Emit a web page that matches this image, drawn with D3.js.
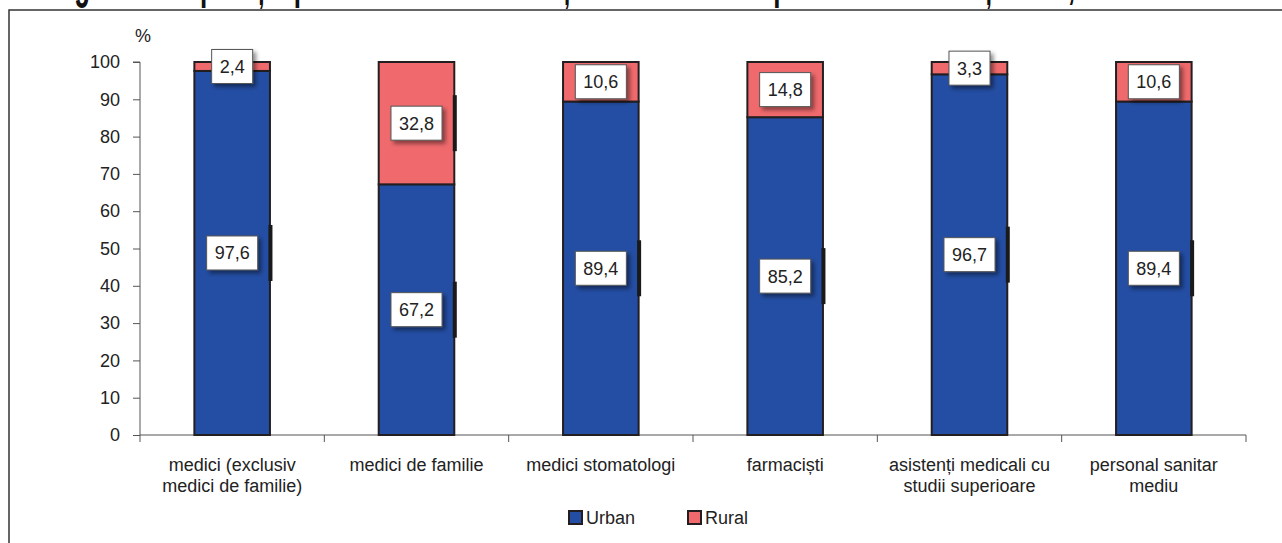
<!DOCTYPE html>
<html>
<head>
<meta charset="utf-8">
<script src="https://cdn.jsdelivr.net/npm/d3@7"></script>
<style>
  body { margin: 0; background: #fff; }
  svg { display: block; font-family: "Liberation Sans", Arial, sans-serif; }
</style>
</head>
<body>
<div class="chart"></div>
<script>
// data
const categories = ["medici (exclusiv\nmedici de familie)", "medici de familie", "medici stomatologi", "farmaciști", "asistenți medicali cu\nstudii superioare", "personal sanitar\nmediu"];
const urban = [97.6, 67.2, 89.4, 85.2, 96.7, 89.4];
const rural = [2.4, 32.8, 10.6, 14.8, 3.3, 10.6];
const yTicks = [0, 10, 20, 30, 40, 50, 60, 70, 80, 90, 100];
const seriesNames = ["Urban", "Rural"];

const title = "Figura 4. Repartiția personalului medical și farmaceutic după mediul urban și rural, anul 2020";

// size of the page
const width = 1282;
const height = 543;

const colors = { Urban: "#244ea4", Rural: "#f06a6d" };

var svg = d3.select(".chart")
  .append("svg")
    .attr("width", width)
    .attr("height", height);

// shadow under the value labels
var defs = svg.append("defs");
defs.append("filter")
    .attr("id", "shadow")
    .attr("x", "-30%").attr("y", "-30%")
    .attr("width", "170%").attr("height", "170%")
  .append("feDropShadow")
    .attr("dx", 3).attr("dy", 3)
    .attr("stdDeviation", 2.2)
    .attr("flood-color", "#000")
    .attr("flood-opacity", 0.45);

// title, cut off by the top edge: only the descenders show
svg.append("text")
    .attr("transform", "translate(626,-3) scale(1,2)")
    .attr("text-anchor", "middle")
    .style("font-weight", "bold")
    .style("font-size", "26px")
    .attr("fill", "#111")
    .text(title);

// frame around the chart
svg.append("rect")
    .attr("x", 9)
    .attr("y", 10)
    .attr("width", 1400)
    .attr("height", 700)
    .attr("fill", "none")
    .attr("stroke", "#333")
    .attr("stroke-width", 1.5);

// scales
var x = d3.scaleBand()
  .domain(categories)
  .range([140, 1246])
  .paddingInner(0.59)
  .paddingOuter(0.295);

var y = d3.scaleLinear()
  .domain([0, 100])
  .range([435, 62]);

// y axis
var yAxis = svg.append("g")
    .attr("transform", "translate(140,0)")
    .call(d3.axisLeft(y).tickValues(yTicks).tickSize(7).tickPadding(13));
yAxis.select(".domain").attr("stroke", "#555").attr("d", "M-7," + y(100) + "H0V" + y(0));
yAxis.selectAll(".tick line").attr("stroke", "#555");
yAxis.selectAll("text")
    .style("font-size", "18px")
    .attr("fill", "#222");

svg.append("text")
    .attr("x", 143)
    .attr("y", 42)
    .attr("text-anchor", "middle")
    .style("font-size", "18px")
    .attr("fill", "#222")
    .text("%");

// x axis: ticks sit between the categories
var bounds = d3.range(categories.length + 1).map(function(i) { return x.range()[0] + i * x.step(); });
var xAxis = svg.append("g");
xAxis.append("line")
    .attr("x1", bounds[0]).attr("x2", bounds[bounds.length - 1])
    .attr("y1", y(0)).attr("y2", y(0))
    .attr("stroke", "#555");
xAxis.selectAll(".tk")
  .data(bounds)
  .enter()
  .append("line")
    .attr("class", "tk")
    .attr("x1", function(d) { return d; }).attr("x2", function(d) { return d; })
    .attr("y1", y(0)).attr("y2", y(0) + 7)
    .attr("stroke", "#555");

xAxis.selectAll(".xl")
  .data(categories)
  .enter()
  .append("text")
    .attr("class", "xl")
    .attr("x", function(d) { return x(d) + x.bandwidth() / 2; })
    .attr("y", 471)
    .attr("text-anchor", "middle")
    .style("font-size", "18px")
    .attr("fill", "#222")
    .each(function(d) {
      var lines = d.split("\n");
      var t = d3.select(this);
      lines.forEach(function(l, i) {
        t.append("tspan")
          .attr("x", x(d) + x.bandwidth() / 2)
          .attr("dy", i == 0 ? 0 : 21)
          .text(l);
      });
    });

// stack the two series
var rows = categories.map(function(c, i) { return { cat: c, Urban: urban[i], Rural: rural[i] }; });
var stacked = d3.stack().keys(seriesNames)(rows);

var groups = svg.selectAll(".series")
  .data(stacked)
  .enter()
  .append("g")
    .attr("class", "series")
    .attr("fill", function(d) { return colors[d.key]; });

groups.selectAll("rect")
  .data(function(d) { return d; })
  .enter()
  .append("rect")
    .attr("x", function(d) { return x(d.data.cat); })
    .attr("y", function(d) { return y(d[1]); })
    .attr("width", x.bandwidth())
    .attr("height", function(d) { return y(d[0]) - y(d[1]); })
    .attr("stroke", "#231f20")
    .attr("stroke-width", 2);

// value labels
var labels = [];
stacked.forEach(function(s) {
  s.forEach(function(d) {
    labels.push({ cat: d.data.cat, v: d[1] - d[0], mid: (d[0] + d[1]) / 2 });
  });
});

// the thick dark piece on the right edge next to big labels
svg.selectAll(".edge")
  .data(labels.filter(function(d) { return d.v > 20; }))
  .enter()
  .append("rect")
    .attr("class", "edge")
    .attr("x", function(d) { return x(d.cat) + x.bandwidth() - 1.5; })
    .attr("y", function(d) { return y(d.mid) - 28; })
    .attr("width", 4)
    .attr("height", 56)
    .attr("fill", "#1a1a1a");

var fmt = function(v) { return d3.format(".1f")(v).replace(".", ","); };

var lab = svg.selectAll(".lab")
  .data(labels)
  .enter()
  .append("g")
    .attr("class", "lab")
    .attr("transform", function(d) { return "translate(" + (x(d.cat) + x.bandwidth() / 2) + "," + y(d.mid) + ")"; });

lab.append("text")
    .attr("text-anchor", "middle")
    .attr("dy", "0.36em")
    .style("font-size", "18px")
    .attr("fill", "#222")
    .text(function(d) { return fmt(d.v); })
    .each(function(d) { d.w = this.getComputedTextLength(); });

lab.insert("rect", "text")
    .attr("x", function(d) { return -d.w / 2 - 8; })
    .attr("y", -17)
    .attr("width", function(d) { return d.w + 16; })
    .attr("height", 34)
    .attr("fill", "#fff")
    .attr("stroke", "#555")
    .attr("stroke-width", 1)
    .attr("filter", "url(#shadow)");

// legend
var legend = svg.selectAll(".leg")
  .data(seriesNames)
  .enter()
  .append("g")
    .attr("class", "leg")
    .attr("transform", function(d, i) { return "translate(" + (569 + i * 119) + ",511)"; });

legend.append("rect")
    .attr("width", 13)
    .attr("height", 13)
    .attr("fill", function(d) { return colors[d]; })
    .attr("stroke", "#231f20")
    .attr("stroke-width", 2);

legend.append("text")
    .attr("x", 17)
    .attr("y", 13)
    .style("font-size", "18px")
    .attr("fill", "#222")
    .text(function(d) { return d; });
</script>
</body>
</html>
